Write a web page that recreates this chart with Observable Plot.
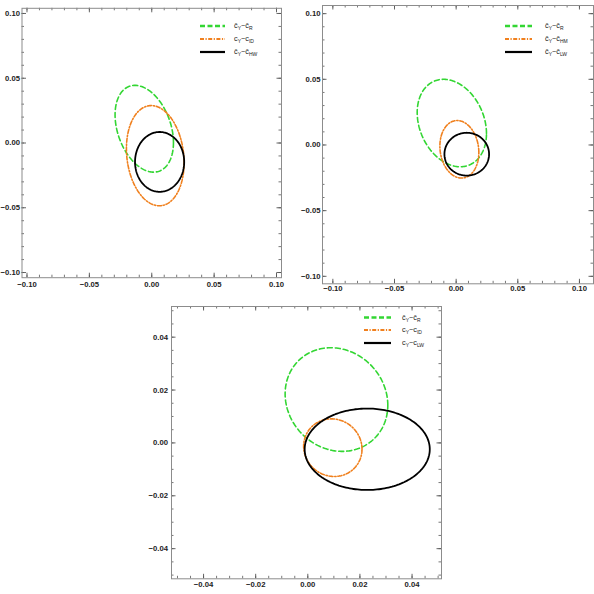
<!DOCTYPE html>
<html><head><meta charset="utf-8">
<script src="https://cdn.jsdelivr.net/npm/d3@7"></script>
<script src="https://cdn.jsdelivr.net/npm/@observablehq/plot@0.6"></script>
<style>
body{margin:0;background:#fff;}
#wrap{position:relative;width:594px;height:594px;overflow:hidden;background:#fff;}
.panel{position:absolute;}
</style></head><body><div id="wrap"></div>
<script>
// ---- series (same order in every panel) ----
const seriesColors = ["#33d633", "#f0801e", "#000000"];
const seriesDash = ["5,3", "4,1.8,1.3,1.8", null];
const mainSym = "c";
const subMain = "Y";

// ---- Panel A (top left): ellipse centre, half-width, half-height, correlation ----
const aSub = ["R", "ID", "HW"];
const aBar = [true, false, true];
const aCx = [-0.0060, 0.0028, 0.0063];
const aCy = [0.0110, -0.0098, -0.0146];
const aHalfW = [0.0234, 0.0231, 0.0197];
const aHalfH = [0.0335, 0.0387, 0.0231];
const aRho = [-0.32, -0.14, 0.0];

// ---- Panel B (top right) ----
const bSub = ["R", "HM", "LW"];
const bBar = [true, true, true];
const bCx = [-0.0035, 0.0026, 0.0086];
const bCy = [0.0167, -0.0033, -0.0070];
const bHalfW = [0.0281, 0.0158, 0.0181];
const bHalfH = [0.0333, 0.0219, 0.0163];
const bRho = [-0.24, -0.11, 0.0];

// ---- Panel C (bottom) ----
const cSub = ["R", "ID", "LW"];
const cBar = [true, false, false];
const cCx = [0.0110, 0.0096, 0.0228];
const cCy = [0.0164, -0.0018, -0.0024];
const cHalfW = [0.0197, 0.0112, 0.0240];
const cHalfH = [0.0196, 0.0109, 0.0154];
const cRho = [-0.11, -0.05, 0.0];

// ---- tick values ----
const abMajor = [-0.10, -0.05, 0.00, 0.05, 0.10];
const abMinor = [-0.10,-0.09,-0.08,-0.07,-0.06,-0.05,-0.04,-0.03,-0.02,-0.01,0,0.01,0.02,0.03,0.04,0.05,0.06,0.07,0.08,0.09,0.10];
const cMajor = [-0.04, -0.02, 0.00, 0.02, 0.04];
const cMinor = [-0.05,-0.045,-0.04,-0.035,-0.03,-0.025,-0.02,-0.015,-0.01,-0.005,0,0.005,0.01,0.015,0.02,0.025,0.03,0.035,0.04,0.045,0.05];

const N = 200;
function outline(cx, cy, hw, hh, rho) {
  const s = Math.sqrt(1 - rho * rho);
  return d3.range(N + 1).map(k => {
    const t = 2 * Math.PI * k / N;
    return {x: cx + hw * Math.cos(t), y: cy + hh * (rho * Math.cos(t) + s * Math.sin(t))};
  });
}

const fmt = d3.format(".2f");
const wrap = document.getElementById("wrap");

function panel(cfg) {
  const iw = cfg.width - cfg.mL - cfg.mR;
  const ih = cfg.height - cfg.mT - cfg.mB;
  const tc = "#555";
  const marks = [
    Plot.tickX(cfg.minor, {x: d => d, insetTop: ih - 2.5, stroke: tc, strokeWidth: 0.8}),
    Plot.tickX(cfg.major, {x: d => d, insetTop: ih - 4.5, stroke: tc, strokeWidth: 0.9}),
    Plot.tickX(cfg.minor, {x: d => d, insetBottom: ih - 2.5, stroke: tc, strokeWidth: 0.8}),
    Plot.tickX(cfg.major, {x: d => d, insetBottom: ih - 4.5, stroke: tc, strokeWidth: 0.9}),
    Plot.tickY(cfg.minor, {y: d => d, insetRight: iw - 2.5, stroke: tc, strokeWidth: 0.8}),
    Plot.tickY(cfg.major, {y: d => d, insetRight: iw - 4.5, stroke: tc, strokeWidth: 0.9}),
    Plot.tickY(cfg.minor, {y: d => d, insetLeft: iw - 2.5, stroke: tc, strokeWidth: 0.8}),
    Plot.tickY(cfg.major, {y: d => d, insetLeft: iw - 4.5, stroke: tc, strokeWidth: 0.9}),
    Plot.frame({stroke: "#8c8c8c", strokeWidth: 1})
  ];
  for (let i = 0; i < 3; i++) {
    marks.push(Plot.line(outline(cfg.cx[i], cfg.cy[i], cfg.hw[i], cfg.hh[i], cfg.rho[i]), {
      x: "x", y: "y", stroke: seriesColors[i],
      strokeWidth: i === 2 ? 1.8 : 1.6,
      strokeDasharray: seriesDash[i] || undefined,
      curve: "linear"
    }));
  }
  marks.push(Plot.axisX(cfg.major, {anchor: "bottom", tickSize: 0, tickPadding: cfg.padX, tickFormat: fmt, label: null, fontWeight: "bold", fill: "#222"}));
  marks.push(Plot.axisY(cfg.major, {anchor: "left", tickSize: 0, tickPadding: cfg.padY, tickFormat: fmt, label: null, fontWeight: "bold", fill: "#222"}));

  const svg = Plot.plot({
    width: cfg.width, height: cfg.height,
    marginLeft: cfg.mL, marginRight: cfg.mR, marginTop: cfg.mT, marginBottom: cfg.mB,
    x: {domain: cfg.xDom},
    y: {domain: cfg.yDom},
    style: {fontFamily: "'Liberation Sans', Arial, sans-serif", fontSize: "7.7px", background: "transparent", overflow: "visible"},
    marks
  });

  // legend inside the frame (top right)
  const g = d3.select(svg).append("g").attr("text-anchor", "start");
  const lg = cfg.legend;
  for (let i = 0; i < 3; i++) {
    const y = lg.rows[i] - cfg.top;
    const x0 = lg.x0 - cfg.left, x1 = lg.x1 - cfg.left;
    g.append("line").attr("x1", x0).attr("x2", x1).attr("y1", y).attr("y2", y)
      .attr("stroke", seriesColors[i]).attr("stroke-width", i === 0 ? 2.6 : 2.2)
      .attr("stroke-dasharray", i === 0 ? "5,2.5" : (i === 1 ? "4,1.5,1.2,1.5" : null));
    const t = g.append("text").attr("x", lg.tx - cfg.left).attr("y", y + 2.4)
      .attr("text-anchor", "start")
      .attr("font-family", "'Liberation Sans', Arial, sans-serif").attr("font-size", 7.3).attr("fill", "#222");
    const bar = cfg.bar[i] ? "\u0304" : "";
    t.append("tspan").text(mainSym + bar);
    t.append("tspan").attr("font-size", 5).attr("dy", 1.6).text(subMain);
    t.append("tspan").attr("dy", -1.6).text("\u2212" + mainSym + bar);
    t.append("tspan").attr("font-size", 5).attr("dy", 1.6).text(cfg.sub[i]);
  }

  const div = document.createElement("div");
  div.className = "panel";
  div.style.left = cfg.left + "px";
  div.style.top = cfg.top + "px";
  div.appendChild(svg);
  wrap.appendChild(div);
}

panel({
  left: 0, top: 0, width: 300, height: 300,
  mL: 21.5, mR: 19, mT: 7.8, mB: 22.8,
  xDom: [-0.104, 0.104], yDom: [-0.104, 0.104],
  cx: aCx, cy: aCy, hw: aHalfW, hh: aHalfH, rho: aRho,
  major: abMajor, minor: abMinor, padX: 4, padY: 2,
  sub: aSub, bar: aBar,
  legend: {x0: 200, x1: 225, tx: 234, rows: [26, 39, 52]}
});

panel({
  left: 300, top: 0, width: 294, height: 300,
  mL: 22, mR: 1, mT: 5, mB: 16.7,
  xDom: [-0.1084, 0.1114], yDom: [-0.1057, 0.1062],
  cx: bCx, cy: bCy, hw: bHalfW, hh: bHalfH, rho: bRho,
  major: abMajor, minor: abMinor, padX: 1.5, padY: 2,
  sub: bSub, bar: bBar,
  legend: {x0: 505, x1: 532, tx: 545, rows: [26, 39, 52]}
});

panel({
  left: 130, top: 300, width: 320, height: 294,
  mL: 41, mR: 9, mT: 6, mB: 15.7,
  xDom: [-0.0523, 0.0513], yDom: [-0.0514, 0.0516],
  cx: cCx, cy: cCy, hw: cHalfW, hh: cHalfH, rho: cRho,
  major: cMajor, minor: cMinor, padX: 3, padY: 3.5,
  sub: cSub, bar: cBar,
  legend: {x0: 364, x1: 391, tx: 402, rows: [317.5, 330, 343]}
});
</script></body></html>
